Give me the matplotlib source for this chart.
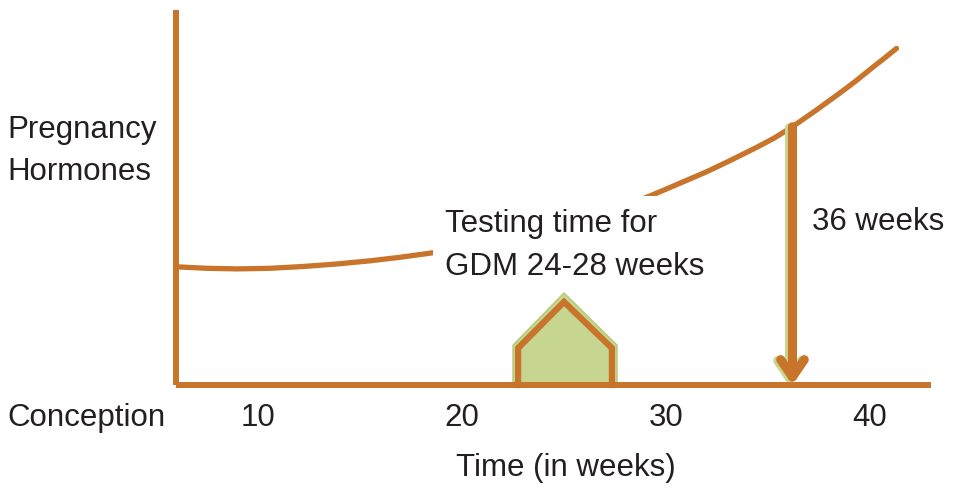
import matplotlib.pyplot as plt
from matplotlib.transforms import offset_copy

plt.rcParams['font.family'] = ['Liberation Sans', 'DejaVu Sans']

# ---------------------------------------------------------
# Data (x in weeks, y in arbitrary hormone units)
# ---------------------------------------------------------
curve_weeks = [6.0, 7.5, 9.0, 10.6, 12.2, 13.8, 15.5, 17.0, 18.6, 20.0, 22.0, 24.0, 26.0, 28.0,
               29.7, 30.8, 32.0, 33.2, 34.5, 35.3, 36.2, 37.3, 38.5, 39.3, 40.1, 40.7, 41.3]
curve_level = [39.4, 38.9, 38.7, 38.9, 39.5, 40.3, 41.4, 42.6, 44.1, 45.8, 48.3, 51.5, 55.2, 59.6,
               64.4, 67.6, 71.1, 75.0, 79.4, 82.3, 86.1, 91.3, 97.2, 101.3, 105.7, 108.9, 112.2]

tick_weeks = [10, 20, 30, 40]
tick_labels = ["10", "20", "30", "40"]

axis_start, axis_end = 6.0, 43.0
axis_top = 125

# testing window pentagon (outer green, inner orange)
test_outer_x = [22.5, 22.5, 25.0, 27.6, 27.6]
test_outer_y = [0, 13.3, 30.7, 13.3, 0]
test_inner_x = [22.75, 22.75, 25.0, 27.35, 27.35]
test_inner_y = [0, 12.3, 27.7, 12.3, 0]

arrow_week = 36.2
arrow_top = 86.1

orange = "#C8742A"
green = "#C6D58F"
green_edge = "#B3CB78"
text_col = "#231F20"
fs = 22.5

# ---------------------------------------------------------
# Figure
# ---------------------------------------------------------
fig = plt.figure(figsize=(9.54, 4.88), dpi=100)
ax = fig.add_axes([0, 0, 1, 1])
ax.set_xlim(-2.647, 44.118)
ax.set_ylim(-34.33, 128.33)
ax.axis("off")

# axes lines (on top of everything)
ax.plot([axis_start, axis_start], [0, axis_top], color=orange, lw=4.3, solid_capstyle="butt", zorder=6)
ax.plot([axis_start, axis_end], [0, 0], color=orange, lw=4.3, solid_capstyle="butt", zorder=6)

# hormone curve
ax.plot(curve_weeks, curve_level, color=orange, lw=3.8, solid_capstyle="round",
        solid_joinstyle="round", zorder=2)

# testing window (drawn above the text box so the apex is not clipped)
ax.fill(test_outer_x, test_outer_y, facecolor=green, edgecolor=green_edge, lw=1, zorder=5)
ax.plot(test_inner_x, test_inner_y, color=orange, lw=4.5, solid_joinstyle="miter", zorder=5.5)

# 36 week arrow with green shadow
shadow = offset_copy(ax.transData, fig=fig, x=-3, y=-1, units="dots")
astyle = "->,head_length=1.25,head_width=0.85"
ax.annotate("", xy=(arrow_week, 0), xytext=(arrow_week, arrow_top),
            xycoords=shadow, textcoords=shadow,
            arrowprops=dict(arrowstyle=astyle, lw=6.5, color=green, shrinkA=0, shrinkB=0),
            zorder=2.6)
ax.annotate("", xy=(arrow_week, 0), xytext=(arrow_week, arrow_top),
            arrowprops=dict(arrowstyle=astyle, lw=6.5, color=orange, shrinkA=0, shrinkB=0),
            zorder=2.7)

# labels
ax.text(-2.30, 78, "Pregnancy\nHormones", fontsize=fs, color=text_col,
        ha="left", va="center", linespacing=1.53)
ax.text(-2.30, -11, "Conception", fontsize=fs, color=text_col, ha="left", va="center")
for w, lab in zip(tick_weeks, tick_labels):
    ax.text(w, -11, lab, fontsize=fs, color=text_col, ha="center", va="center")
ax.text(25.1, -27.7, "Time (in weeks)", fontsize=fs, color=text_col, ha="center", va="center")

ax.text(19.17, 46.5, "Testing time for\nGDM 24-28 weeks", fontsize=fs, color=text_col,
        ha="left", va="center", linespacing=1.58, zorder=4,
        bbox=dict(boxstyle="square,pad=0.4", facecolor="white", edgecolor="none"))
ax.text(37.16, 54.3, "36 weeks", fontsize=fs, color=text_col, ha="left", va="center")

plt.savefig("out.png", dpi=100)
